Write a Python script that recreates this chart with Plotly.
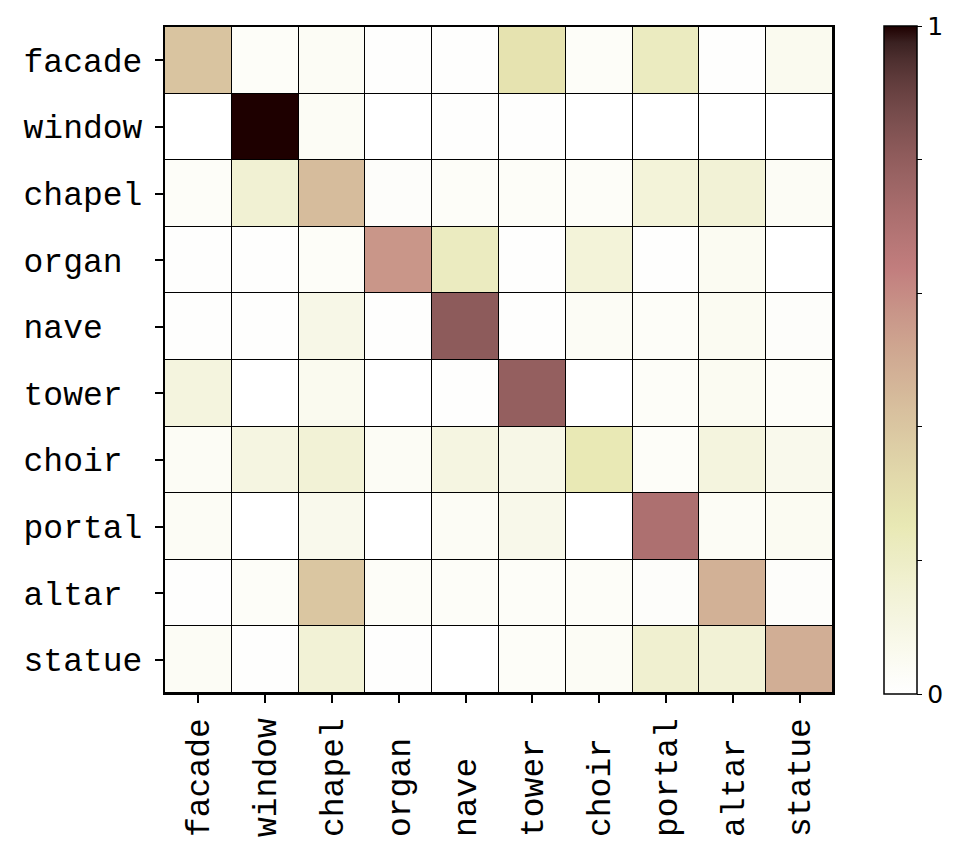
import numpy as np
import plotly.graph_objects as go

labels = ["facade", "window", "chapel", "organ", "nave", "tower", "choir", "portal", "altar", "statue"]

row_facade = [0.41, 0.03, 0.04, 0.01, 0.01, 0.28, 0.03, 0.22, 0.01, 0.06]
row_window = [0.00, 1.00, 0.04, 0.00, 0.01, 0.01, 0.00, 0.00, 0.00, 0.00]
row_chapel = [0.03, 0.16, 0.44, 0.02, 0.03, 0.03, 0.03, 0.14, 0.15, 0.04]
row_organ = [0.01, 0.01, 0.03, 0.57, 0.22, 0.01, 0.14, 0.01, 0.05, 0.00]
row_nave = [0.01, 0.01, 0.09, 0.01, 0.81, 0.01, 0.04, 0.03, 0.05, 0.02]
row_tower = [0.12, 0.00, 0.06, 0.00, 0.01, 0.79, 0.00, 0.03, 0.05, 0.03]
row_choir = [0.04, 0.11, 0.15, 0.04, 0.11, 0.09, 0.25, 0.03, 0.12, 0.07]
row_portal = [0.04, 0.00, 0.07, 0.00, 0.04, 0.08, 0.00, 0.71, 0.04, 0.05]
row_altar = [0.01, 0.03, 0.40, 0.03, 0.03, 0.03, 0.03, 0.02, 0.48, 0.02]
row_statue = [0.04, 0.01, 0.15, 0.01, 0.00, 0.03, 0.04, 0.17, 0.15, 0.49]

z = [row_facade, row_window, row_chapel, row_organ, row_nave,
     row_tower, row_choir, row_portal, row_altar, row_statue]

# pink_r colourscale (matplotlib "pink" reversed)
def pink(x):
    hr = np.interp(x, [0, 0.365079, 1], [0.0416, 1, 1])
    hg = np.interp(x, [0, 0.365079, 0.746032, 1], [0, 0, 1, 1])
    hb = np.interp(x, [0, 0.746032, 1], [0, 0, 1])
    return [np.sqrt((2 * x + h) / 3) for h in (hr, hg, hb)]

stops = sorted(set(list(np.linspace(0, 1, 41)) + [1 - 0.365079, 1 - 0.746032]))
colorscale = []
for s in stops:
    r, g, b = pink(1 - s)
    colorscale.append([float(s), "rgb(%d,%d,%d)" % (round(r * 255), round(g * 255), round(b * 255))])

padded = [l + "\u00a0" * (6 - len(l)) for l in labels]
idx = list(range(len(labels)))

fig = go.Figure(go.Heatmap(
    z=z, x=idx, y=idx,
    colorscale=colorscale, zmin=0, zmax=1,
    xgap=1, ygap=1,
    colorbar=dict(
        x=1.0764, xanchor="left", xpad=0, ypad=0,
        y=0.5, yanchor="middle",
        len=668, lenmode="pixels", thickness=33,
        outlinecolor="black", outlinewidth=1.5,
        tickvals=[0, 0.2, 0.4, 0.6, 0.8, 1],
        ticktext=["0", "", "", "", "", "1"],
        ticks="outside", ticklen=5, tickcolor="black",
        tickfont=dict(family="DejaVu Sans", size=25, color="black"),
    ),
))

fig.update_layout(
    width=972, height=851,
    margin=dict(l=157, r=147, t=19, b=166, autoexpand=False),
    paper_bgcolor="white", plot_bgcolor="black",
    font=dict(family="Liberation Mono", color="black"),
)
fig.update_xaxes(
    tickmode="array", tickvals=idx, ticktext=padded, tickangle=-90,
    tickfont=dict(family="Liberation Mono", size=33, color="black"),
    ticks="outside", ticklen=8, tickwidth=1.5, tickcolor="black",
    ticklabelstandoff=2,
    showline=True, linecolor="black", linewidth=2, mirror=True,
    showgrid=False, zeroline=False, range=[-0.5, 9.5],
)
fig.update_yaxes(
    tickmode="array", tickvals=idx, ticktext=padded,
    tickfont=dict(family="Liberation Mono", size=33, color="black"),
    ticks="outside", ticklen=8, tickwidth=1.5, tickcolor="black",
    ticklabelstandoff=6,
    showline=True, linecolor="black", linewidth=2, mirror=True,
    showgrid=False, zeroline=False, range=[9.5, -0.5],
)

fig.write_html("out.html")
